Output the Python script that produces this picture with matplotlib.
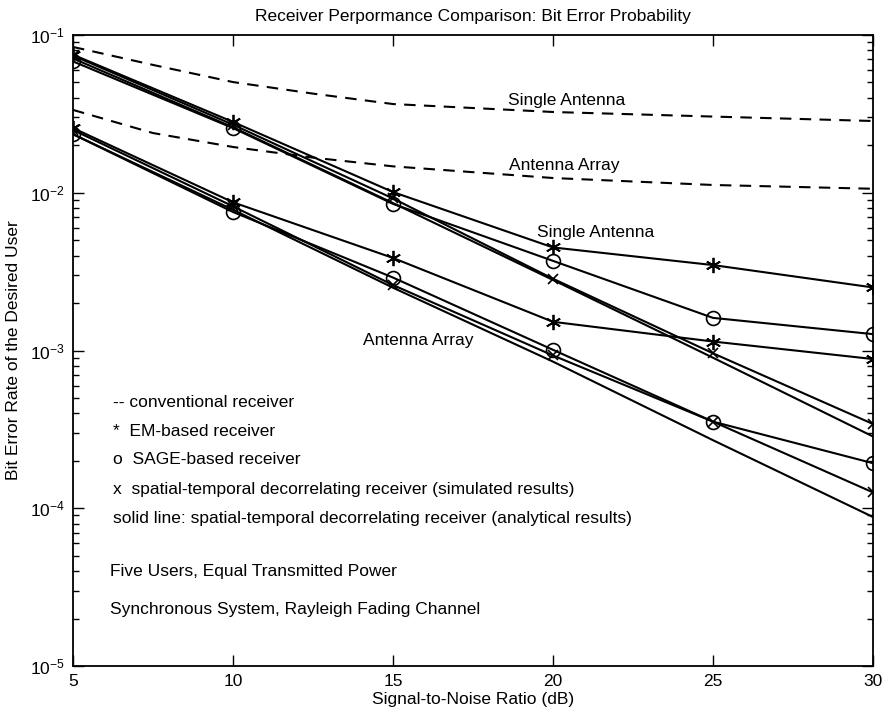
import numpy as np
import matplotlib
matplotlib.use('Agg')
import matplotlib.pyplot as plt

plt.rcParams['font.family'] = ['Liberation Sans', 'DejaVu Sans']
plt.rcParams['mathtext.fontset'] = 'custom'
plt.rcParams['mathtext.rm'] = 'Liberation Sans'
plt.rcParams['axes.unicode_minus'] = False

# SNR points (dB)
snr = [5, 10, 15, 20, 25, 30]
snr_conv = [5, 7.5, 10, 12.5, 15, 20, 25, 30]

# conventional receiver (dashed)
conv_single = [0.084, 0.0646, 0.0503, 0.0425, 0.0365, 0.0325, 0.0304, 0.0285]
conv_array = [0.0335, 0.0239, 0.0195, 0.0167, 0.0147, 0.0124, 0.0112, 0.0106]

# single antenna
em_single = [0.075, 0.0281, 0.0101, 0.0045, 0.00348, 0.00251]
sage_single = [0.068, 0.0257, 0.0085, 0.0037, 0.00161, 0.00127]
std_sim_single = [0.074, 0.027, 0.0092, 0.00285, 0.00096, 0.000342]
std_ana_single = [0.071, 0.026, 0.0086, 0.0028, 0.00090, 0.000285]

# antenna array
em_array = [0.0257, 0.0087, 0.00386, 0.00152, 0.00114, 0.000883]
sage_array = [0.0235, 0.00755, 0.0029, 0.00101, 0.000354, 0.000193]
std_sim_array = [0.025, 0.0082, 0.0026, 0.00093, 0.000354, 0.000126]
std_ana_array = [0.0235, 0.0078, 0.0025, 0.00085, 0.00027, 0.000088]

fig = plt.figure(figsize=(8.83, 7.17), dpi=100)
ax = fig.add_axes([0.0827, 0.0711, 0.906, 0.8801])

lw = 1.5
ax.plot(snr_conv, conv_single, 'k--', lw=lw, dashes=(5.5, 4))
ax.plot(snr_conv, conv_array, 'k--', lw=lw, dashes=(5.5, 4))

# MATLAB-style asterisk
star = (6, 2, 0)
for vals in [em_single, em_array]:
    ax.plot(snr, vals, 'k-', lw=lw, marker=star, ms=11, mew=1.3)
for vals in [sage_single, sage_array]:
    ax.plot(snr, vals, 'k-', lw=lw, marker='o', ms=10, mfc='none', mew=1.2)
for vals in [std_sim_single, std_sim_array]:
    ax.plot(snr, vals, 'k-', lw=lw, marker='x', ms=7, mew=1.2)
for vals in [std_ana_single, std_ana_array]:
    ax.plot(snr, vals, 'k-', lw=lw)

ax.set_yscale('log')
ax.set_xlim(5, 30)
ax.set_ylim(1e-5, 1e-1)
ax.set_xticks(snr)
ax.tick_params(which='both', direction='in', top=True, right=True, labelsize=12.5, width=1)
ax.tick_params(which='major', length=8, pad=6)
ax.tick_params(which='minor', length=4)
for s in ax.spines.values():
    s.set_linewidth(1.3)

fs = 12.5
ax.set_title('Receiver Perpormance Comparison: Bit Error Probability', fontsize=fs, pad=10)
ax.set_xlabel('Signal-to-Noise Ratio (dB)', fontsize=fs, labelpad=2)
ax.set_ylabel('Bit Error Rate of the Desired User', fontsize=fs, labelpad=6)

# curve labels
ax.text(18.6, 0.0387, 'Single Antenna', fontsize=fs, va='center')
ax.text(18.63, 0.0148, 'Antenna Array', fontsize=fs, va='center')
ax.text(19.5, 0.00556, 'Single Antenna', fontsize=fs, va='center')
ax.text(14.06, 0.00115, 'Antenna Array', fontsize=fs, va='center')

# legend block as text
notes = [
    (0.05, 0.418, '-- conventional receiver'),
    (0.05, 0.372, '*  EM-based receiver'),
    (0.05, 0.3265, 'o  SAGE-based receiver'),
    (0.05, 0.279, 'x  spatial-temporal decorrelating receiver (simulated results)'),
    (0.05, 0.233, 'solid line: spatial-temporal decorrelating receiver (analytical results)'),
    (0.046, 0.149, 'Five Users, Equal Transmitted Power'),
    (0.046, 0.0903, 'Synchronous System, Rayleigh Fading Channel'),
]
for x, y, t in notes:
    ax.text(x, y, t, transform=ax.transAxes, fontsize=fs, va='center')

fig.savefig('out.png', dpi=100)
